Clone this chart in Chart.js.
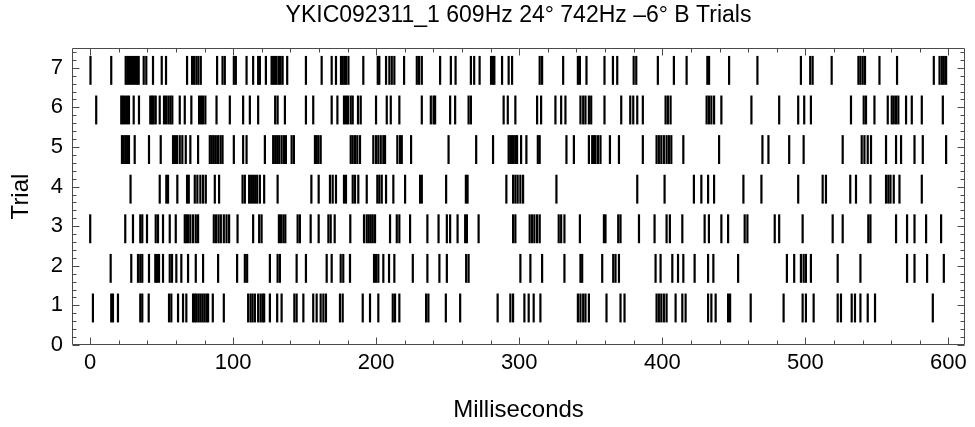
<!DOCTYPE html>
<html><head><meta charset="utf-8">
<script src="https://cdn.jsdelivr.net/npm/chart.js@4/dist/chart.umd.min.js"></script>
<style>html,body{margin:0;padding:0;background:#fff}#wrap{width:975px;height:427px}</style>
</head><body><div id="wrap"><canvas id="c" width="975" height="427"></canvas></div>
<script>
const chartTitle = 'YKIC092311_1 609Hz 24° 742Hz –6° B Trials';
const xTitle = 'Milliseconds';
const yTitle = 'Trial';
const xTickLabels = [0, 100, 200, 300, 400, 500, 600];
const yTickLabels = [0, 1, 2, 3, 4, 5, 6, 7];
const trialNumbers = [1, 2, 3, 4, 5, 6, 7];

const trial1 = [2, 14.8, 16, 19.5, 35.1, 36.5, 41, 55.2, 56.8, 61.5, 65, 67.3, 72, 73.2, 74.3, 75.7, 77.1, 78.5, 79.9, 81.3, 82.5, 85.8,
  93.5, 110.5, 112.2, 113.6, 115.2, 117.5, 119.2, 120.6, 121.7, 125.7, 130.8, 133.9, 142.8, 144.4, 149.1, 156, 158.4, 161.2, 163.1, 164.9, 174.7, 176.6,
  190.6, 195.7, 201.5, 211.6, 213.2, 216.2, 234.9, 236.5, 248.7, 258.7,
  284.9, 293.8, 295.7, 303.6, 306.6, 310.1, 314.8, 341, 342.8, 344.7, 346.3, 348.7, 361, 370.8, 373.6,
  396, 397.6, 399.3, 401.1, 403, 409.3, 414, 416.3, 432, 434.3, 437.3, 446, 447.4, 461.8,
  484.8, 498.1, 500.4, 505.8, 522.6, 524.9, 532.4, 534.7, 538.5, 543.6, 548.7, 589.1];
const trial2 = [14.4, 28.8, 33.5, 35.1, 36.5, 41.2, 45.6, 46.8, 48.2, 51, 55.7, 57.3, 60.3, 63.8, 68.5, 73.9, 79,
  89.5, 102.8, 108.2, 109.8, 125.7, 131.1, 132.7, 144.4, 150.9, 165.4, 168.9, 175.2, 177, 181.7,
  198.5, 199.9, 201.5, 205, 209, 212.7, 225.6, 235.8, 244.2, 249.4, 262.9, 264.6,
  300.8, 307.8, 316, 331.6, 342.8, 344, 358, 365.7, 367.3, 369.7,
  395.3, 398.8, 407, 411, 414.7, 422.6, 432, 435.7, 453,
  487.1, 492.2, 496.9, 498.8, 500.4, 503.9, 522.6, 538.5, 571.1, 576.3, 585.1, 596.8];
const trial3 = [0.1, 24.6, 30, 35.1, 36.5, 39.8, 45.9, 47.5, 51, 55.7, 59.9, 66.2, 67.3, 68.5, 70.1, 72, 73.9, 75.5,
  86.5, 88.1, 89.8, 91.4, 93.5, 95.4, 97.2, 103.1, 114, 118.2, 119.9, 132, 133.4, 135.1, 136.5, 145.1, 146.7, 154.2, 159.8, 166.6, 168.2, 171,
  181.9, 191.5, 193.4, 194.8, 196.2, 197.6, 199.2, 209.7, 214.4, 216.2, 223.7, 235.8, 243.6, 249.4, 251.7, 256.9, 262.2, 263.4, 271.6,
  295.7, 297.3, 307.3, 309, 310.6, 312.5, 314.3, 327.6, 329.3, 331.6, 342.4, 359.2, 360.3, 369.2, 370.8, 383.7,
  394.6, 403, 405.3, 414, 429.6, 432.6, 441.3, 446, 457.6, 459.5, 478.6, 481.7,
  498.1, 519.1, 526.1, 544, 545.5, 563.4, 571.1, 576.3, 584.4, 594.9];
const trial4 = [28.3, 48.7, 53.3, 54.5, 61, 67.8, 69, 73.2, 75, 77.1, 79, 80.9,
  87.2, 90.2, 106.6, 108.2, 111.2, 112.6, 114, 115.4, 116.8, 118.7, 121.7, 131.1, 154.7, 159.8, 167.7, 169.6, 171.9, 177.5, 178.9,
  183.6, 185.2, 187.5, 193.4, 200.8, 202.2, 203.9, 206.9, 212, 220.2, 230.7, 231.9, 248.9, 262.7, 263.9,
  291, 295.7, 297.3, 298.9, 300.8, 302.7, 326, 382.5,
  401.6, 422.1, 427.3, 432, 436.2, 456.7, 469.3,
  495, 512.1, 514.4, 531.4, 535.4, 545.5, 556.4, 558, 559.5, 561.8, 565.8, 581.4];
const trial5 = [22.3, 23.4, 24.6, 25.8, 27.2, 31.2, 41.2, 49.4, 58, 59.4, 60.8, 62.7, 64.5, 66.9, 70.1, 75.5,
  83.7, 85.1, 86.5, 87.9, 89.5, 91.2, 92.6, 100.5, 107, 109.4, 122.2, 128, 129.4, 130.8, 132.2, 133.9, 135.5, 136.9, 140.9, 142.5, 157.2, 158.4, 159.6, 161.2,
  182.2, 183.6, 185.2, 186.8, 188.7, 198, 199.9, 201.5, 203.2, 205, 206.2, 214.8, 216.7, 217.9, 224.4, 250.6, 269.9,
  281.7, 292.6, 293.8, 295, 296.1, 297.3, 298.5, 301.3, 305, 313, 314.3, 333, 338.2, 348.7, 351, 352.2, 353.3, 355, 356.8, 363.4, 369.7,
  386.4, 396, 397.6, 399.3, 401.1, 403, 404.6, 406.3, 414.7, 439.7, 470, 474.2,
  488.7, 498.8, 526.1, 539.4, 541.3, 543.6, 545.9, 556.4, 563.4, 566.9, 576.3, 582.1, 598.4];
const trial6 = [4.3, 21.8, 23, 24.4, 25.8, 27.2, 30.5, 34.2, 42.1, 43.3, 44.5, 45.9, 48.7, 51.7, 53.1, 54.7, 56.1, 57.5, 62.7, 66.2, 70.8, 76.2, 77.6, 79, 80.6,
  88.4, 97.7, 107, 111.7, 117.5, 129.4, 131.1, 136.2, 150.9, 156, 168.9, 172.9, 177.5, 178.9, 180.3,
  182.2, 183.6, 187.3, 189.2, 199.9, 207.4, 210.2, 216.2, 231.9, 238.2, 240.1, 241.2, 251.7, 255.2, 264.6, 266.2,
  289.1, 292, 297.3, 312.5, 315.3, 325.3, 329.3, 332.3, 342.8, 344.7, 346.3, 348.7, 350.3, 359.6, 371.3, 377.6, 379.7, 382.5, 386.4,
  402.3, 403.9, 405.8, 431, 432.6, 434.3, 436.2, 441.3, 462.3, 481.7,
  495, 499.2, 503.9, 531.9, 540.8, 542.4, 548.3, 557.6, 560.4, 561.8, 563.4, 565, 570.4, 574.4, 581.4, 596.1];
const trial7 = [0.3, 14.8, 24.9, 26, 27.2, 28.6, 30, 31.4, 32.8, 34, 37.5, 39.3, 44, 50.1, 53.1, 67.8, 71.3, 72.7, 74.3, 75.7, 77.4,
  88.8, 92.6, 94.2, 100.5, 101.9, 109.4, 114, 117.5, 118.7, 122.9, 126.9, 128, 129.2, 130.4, 132, 133.2, 134.6, 137.8, 150.9, 161.9, 168.9, 171.9, 175.4, 176.6, 177.8, 178.9, 180.6,
  191, 201.1, 202.2, 206.9, 209.2, 210.9, 212.7, 219.5, 228.4, 230, 231.9, 244.7, 252.2, 255.5, 266.2, 268.5, 272.3,
  280.3, 281.7, 282.6, 288, 292.6, 295, 314.3, 316, 330.7, 341, 342.4, 347, 359.6, 365.5, 368.5, 380, 381.8,
  396.9, 408.1, 417, 431.5, 432.7, 446.7, 466.5,
  496.9, 503.4, 505.1, 518.4, 537.1, 538.5, 540.1, 541.7, 551.8, 564.1, 589.8, 593.8, 595.4, 596.8, 598.4];

const spikeTrains = [trial1, trial2, trial3, trial4, trial5, trial6, trial7];

// mark extent around each trial row (in trial units)
const BELOW = 0.43, ABOVE = 0.30;
const FONT = 'Liberation Sans, Arial, sans-serif';

const datasets = spikeTrains.map((train, i) => ({
  label: 'Trial ' + trialNumbers[i],
  data: train.map(t => ({ x: t, y: [trialNumbers[i] - BELOW, trialNumbers[i] + ABOVE] })),
  backgroundColor: '#000',
  borderWidth: 0,
  barThickness: 2.2,
  grouped: false,
  inflateAmount: 0
}));

const framePlugin = {
  id: 'frame',
  afterDatasetsDraw(chart) {
    const { ctx, chartArea: a, scales: { x, y } } = chart;
    const L = Math.round(a.left) + 0.5, R = Math.round(a.right) - 0.5;
    const T = Math.round(a.top) + 0.5, B = Math.round(a.bottom) - 0.5;
    ctx.save();
    ctx.strokeStyle = '#4a4a4a';
    ctx.lineWidth = 1;
    ctx.beginPath();
    ctx.rect(L, T, R - L, B - T);
    const xs = [];
    for (let k = 0; k < xTickLabels.length; k++) {
      xs.push([xTickLabels[k], 7]);
      if (k < xTickLabels.length - 1) {
        const step = (xTickLabels[k + 1] - xTickLabels[k]) / 5;
        for (let m = 1; m < 5; m++) xs.push([xTickLabels[k] + m * step, 4]);
      }
    }
    xs.forEach(([v, len]) => {
      const p = Math.round(x.getPixelForValue(v)) + 0.5;
      ctx.moveTo(p, B); ctx.lineTo(p, B - len);
      ctx.moveTo(p, T); ctx.lineTo(p, T + len);
    });
    const ys = [];
    for (let k = 0; k < yTickLabels.length; k++) {
      ys.push([yTickLabels[k], 7]);
      for (let m = 1; m < 5; m++) {
        const v = yTickLabels[k] + m * 0.2;
        if (v < y.max) ys.push([v, 4]);
      }
    }
    ys.forEach(([v, len]) => {
      const p = Math.round(y.getPixelForValue(v)) + 0.5;
      ctx.moveTo(L, p); ctx.lineTo(L + len, p);
      ctx.moveTo(R, p); ctx.lineTo(R - len, p);
    });
    ctx.stroke();
    ctx.restore();
  }
};

new Chart(document.getElementById('c'), {
  type: 'bar',
  data: { datasets },
  plugins: [framePlugin],
  options: {
    responsive: false,
    animation: false,
    devicePixelRatio: 1,
    layout: { padding: { left: 0, right: 10, top: 0, bottom: 0 } },
    plugins: {
      legend: { display: false },
      tooltip: { enabled: false },
      title: {
        display: true, text: chartTitle, fullSize: false, color: '#000',
        font: { family: FONT, size: 23, weight: 'normal' },
        padding: { top: 2, bottom: 18.4 }
      }
    },
    scales: {
      x: {
        type: 'linear', min: -12.6, max: 611.6, offset: false,
        grid: { display: false, drawTicks: false }, border: { display: false },
        afterBuildTicks: s => { s.ticks = xTickLabels.map(v => ({ value: v })); },
        ticks: { color: '#000', font: { family: FONT, size: 22 }, padding: 4.8, maxRotation: 0, autoSkip: false },
        title: { display: true, text: xTitle, color: '#000', font: { family: FONT, size: 24 }, padding: { top: 14.6, bottom: 2.6 } }
      },
      y: {
        type: 'linear', min: 0, max: 7.5,
        grid: { display: false, drawTicks: false }, border: { display: false },
        afterBuildTicks: s => { s.ticks = yTickLabels.map(v => ({ value: v })); },
        ticks: { color: '#000', font: { family: FONT, size: 22 }, padding: 9, autoSkip: false },
        title: { display: true, text: yTitle, color: '#000', font: { family: FONT, size: 24 }, padding: { top: 7.3, bottom: 5.7 } }
      }
    }
  }
});
</script>
</body></html>
